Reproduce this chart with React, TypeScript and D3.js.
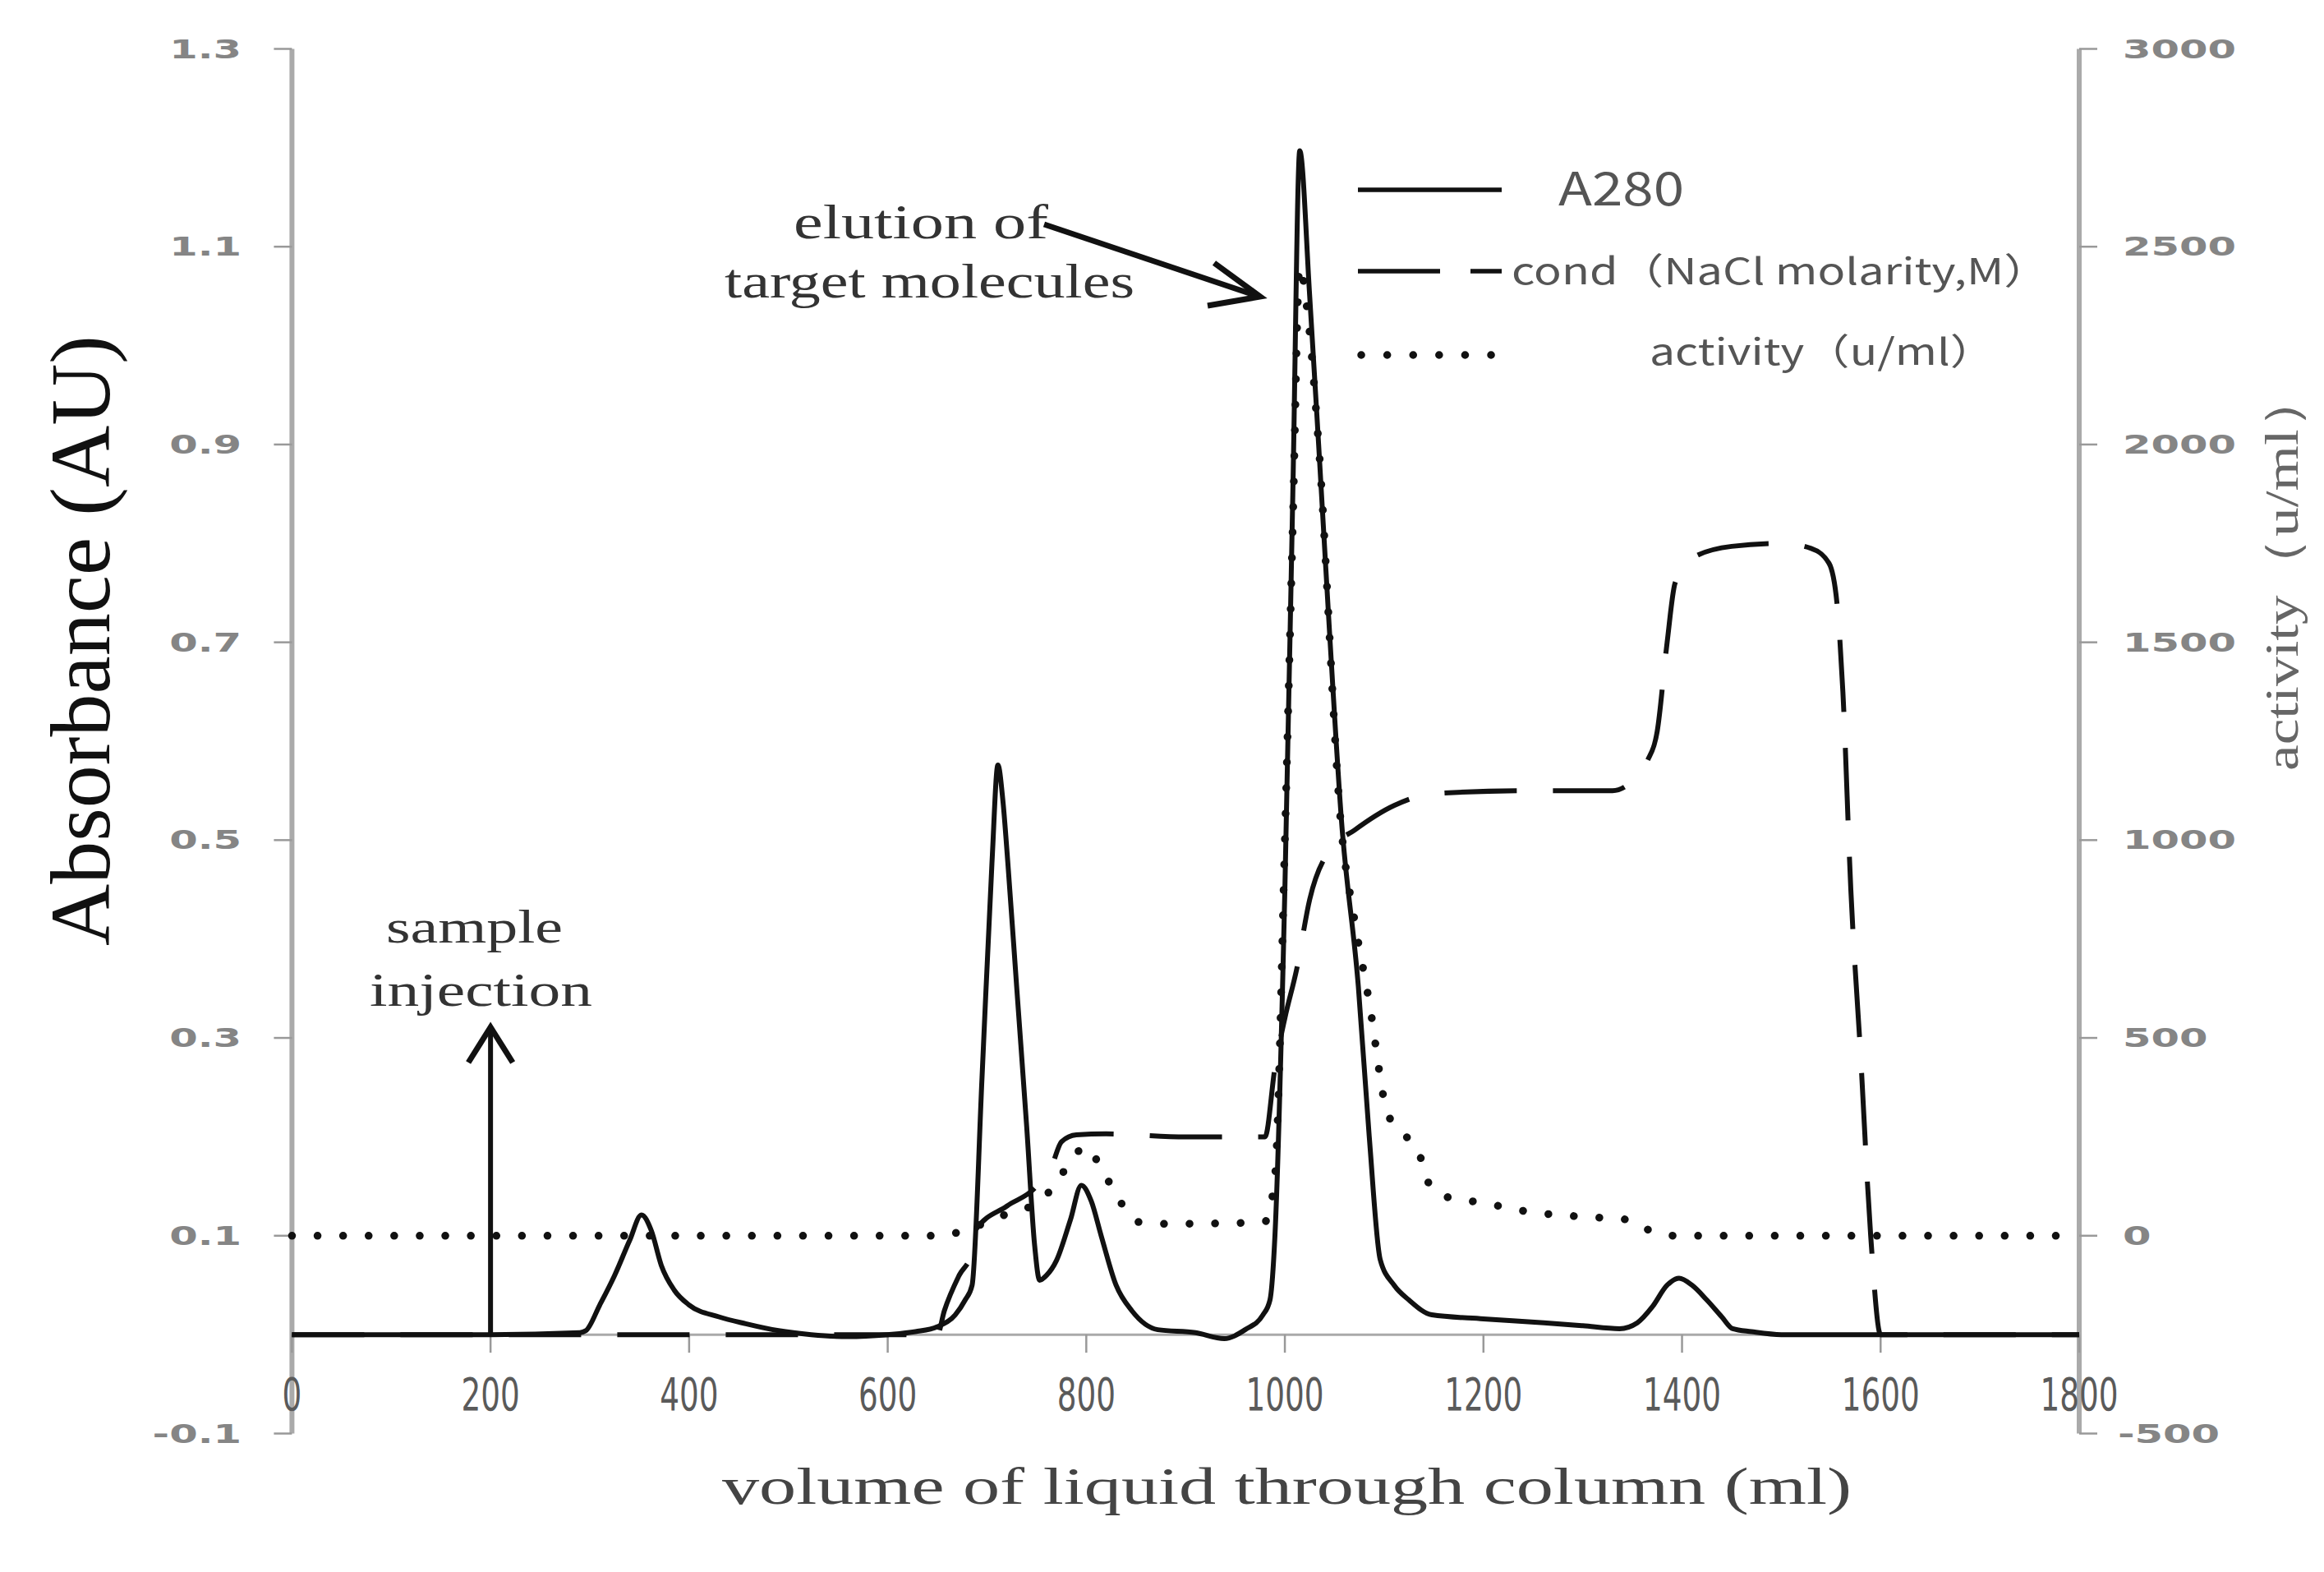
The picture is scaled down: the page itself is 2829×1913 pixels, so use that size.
import React from "react";
import * as d3 from "d3";

// ---- data ----
const xTicks = [0, 200, 400, 600, 800, 1000, 1200, 1400, 1600, 1800];
const yLeftTicks = [-0.1, 0.1, 0.3, 0.5, 0.7, 0.9, 1.1, 1.3];
const yRightTicks = [-500, 0, 500, 1000, 1500, 2000, 2500, 3000];

const a280Volume = [0, 100, 200, 290, 296, 310, 325, 340, 352, 362, 372, 385, 400, 430, 457, 490, 523, 560, 600, 628, 650, 668, 678, 685, 695, 705, 711, 716, 721, 730, 740, 748, 753, 760, 770, 784, 795, 805, 815, 830, 846, 872, 910, 939, 960, 978, 985, 990, 1000, 1008, 1015, 1025, 1034, 1045, 1057, 1074, 1085, 1096, 1110, 1125, 1148, 1200, 1261, 1300, 1337, 1355, 1370, 1385, 1397, 1410, 1425, 1440, 1451, 1470, 1500, 1600, 1700, 1800];
const a280Values = [0, 0, 0, 0.002, 0.004, 0.03, 0.06, 0.095, 0.121, 0.105, 0.07, 0.045, 0.03, 0.018, 0.011, 0.004, 0, -0.002, 0, 0.003, 0.008, 0.02, 0.035, 0.05, 0.26, 0.477, 0.576, 0.54, 0.477, 0.35, 0.21, 0.09, 0.055, 0.06, 0.075, 0.116, 0.151, 0.135, 0.1, 0.05, 0.024, 0.005, 0.002, -0.004, 0.005, 0.02, 0.035, 0.1, 0.45, 0.85, 1.197, 1.05, 0.9, 0.71, 0.52, 0.352, 0.2, 0.076, 0.05, 0.035, 0.02, 0.016, 0.012, 0.009, 0.006, 0.012, 0.028, 0.05, 0.057, 0.05, 0.035, 0.018, 0.006, 0.003, 0, 0, 0, 0];

const condVolume = [0, 650, 657, 672, 685, 688, 720, 748, 765, 775, 790, 820, 900, 980, 990, 1000, 1012, 1025, 1045, 1070, 1110, 1150, 1250, 1330, 1350, 1365, 1375, 1385, 1393, 1410, 1450, 1500, 1530, 1548, 1556, 1562, 1570, 1580, 1590, 1600, 1700, 1800];
const condValues = [0, 0, 0.024, 0.06, 0.083, 0.105, 0.13, 0.148, 0.17, 0.195, 0.202, 0.203, 0.2, 0.2, 0.27, 0.32, 0.37, 0.44, 0.49, 0.51, 0.535, 0.547, 0.55, 0.55, 0.56, 0.58, 0.61, 0.7, 0.76, 0.785, 0.797, 0.8, 0.795, 0.78, 0.74, 0.65, 0.45, 0.28, 0.1, 0, 0, 0];

const activityVolume = [0, 650, 665, 688, 720, 755, 775, 800, 813, 826, 840, 852, 880, 950, 980, 990, 1000, 1008, 1015, 1022, 1034, 1057, 1070, 1085, 1103, 1118, 1133, 1148, 1166, 1195, 1250, 1300, 1347, 1366, 1394, 1500, 1800];
const activityValues = [0, 0, 5, 23, 55, 90, 155, 225, 180, 122, 65, 35, 30, 32, 36, 150, 1000, 1800, 2450, 2350, 2000, 1025, 800, 590, 313, 260, 222, 118, 96, 85, 59, 48, 40, 15, 0, 0, 0];

const legendLabels = ["A280", "cond（NaCl molarity,M）", "activity（u/ml）"];

export default function App() {
  const W = 2829, H = 1913;
  const x = d3.scaleLinear().domain([0, 1800]).range([355.4, 2531]);
  const y = d3.scaleLinear().domain([-0.1, 1.3]).range([1744.5, 59.5]);
  const yR = d3.scaleLinear().domain([-500, 3000]).range([1744.5, 59.5]);

  const lineL = d3.line<[number, number]>().x(d => x(d[0])).y(d => y(d[1])).curve(d3.curveMonotoneX);
  const lineR = d3.line<[number, number]>().x(d => x(d[0])).y(d => yR(d[1])).curve(d3.curveMonotoneX);

  const a280 = a280Volume.map((v, i) => [v, a280Values[i]] as [number, number]);
  const cond = condVolume.map((v, i) => [v, condValues[i]] as [number, number]);
  const act = activityVolume.map((v, i) => [v, activityValues[i]] as [number, number]);

  const x0 = x(0), x1 = x(1800), yBase = y(0);
  const tickFont = "DejaVu Sans, sans-serif";
  const serif = "Liberation Serif, Times New Roman, serif";
  const sans = "Noto Sans CJK SC, Noto Sans, sans-serif";

  return (
    <svg width={W} height={H} style={{ position: "absolute", left: 0, top: 0, background: "#fff" }}>
      <rect width={W} height={H} fill="#fff" />
      {/* axes */}
      <line x1={x0} x2={x0} y1={y(1.3)} y2={y(-0.1)} stroke="#aaa" strokeWidth={6} />
      <line x1={x1} x2={x1} y1={yR(3000)} y2={yR(-500)} stroke="#aaa" strokeWidth={6} />
      <line x1={x0} x2={x1} y1={yBase} y2={yBase} stroke="#aaa" strokeWidth={3} />
      {yLeftTicks.map(t => (
        <g key={"l" + t}>
          <line x1={x0 - 22} x2={x0} y1={y(t)} y2={y(t)} stroke="#999" strokeWidth={2.5} />
          <text transform={`translate(294,${y(t) + 11}) scale(1.55,1)`} textAnchor="end" fontFamily={tickFont} fontWeight="bold" fontSize={32} fill="#858585">{t.toFixed(1)}</text>
        </g>
      ))}
      {yRightTicks.map(t => (
        <g key={"r" + t}>
          <line x1={x1} x2={x1 + 22} y1={yR(t)} y2={yR(t)} stroke="#999" strokeWidth={2.5} />
          <text transform={`translate(${t < 0 ? 2578 : 2584},${yR(t) + 11}) scale(1.55,1)`} textAnchor="start" fontFamily={tickFont} fontWeight="bold" fontSize={32} fill="#858585">{t}</text>
        </g>
      ))}
      {xTicks.map(t => (
        <g key={"x" + t}>
          <line x1={x(t)} x2={x(t)} y1={yBase} y2={yBase + 22} stroke="#999" strokeWidth={2.5} />
          <text transform={`translate(${x(t)},1716) scale(0.68,1)`} textAnchor="middle" fontFamily={tickFont} fontSize={55} fill="#5a5a5a">{t}</text>
        </g>
      ))}

      {/* axis titles */}
      <text x={879} y={1830} textLength={1375} lengthAdjust="spacingAndGlyphs" fontFamily={serif} fontSize={64} fill="#444">volume of liquid through column (ml)</text>
      <text transform="translate(133,1151) rotate(-90)" textLength={743} lengthAdjust="spacingAndGlyphs" fontFamily={serif} fontSize={104} fill="#111">Absorbance (AU)</text>
      <text transform="translate(2797,938) rotate(-90)" textLength={487} lengthAdjust="spacingAndGlyphs" fontFamily={serif} fontSize={58} fill="#666">activity（u/ml）</text>

      {/* series */}
      <path d={lineL(a280) || ""} fill="none" stroke="#111" strokeWidth={6} strokeLinejoin="round" />
      <path d={lineL(cond) || ""} fill="none" stroke="#111" strokeWidth={6} strokeDasharray="88 44" />
      <path d={lineR(act) || ""} fill="none" stroke="#111" strokeWidth={9.5} strokeDasharray="0.1 31" strokeLinecap="round" />

      {/* legend */}
      <line x1={1653} x2={1828} y1={231} y2={231} stroke="#111" strokeWidth={5.5} />
      <text x={1897} y={250} textLength={153} lengthAdjust="spacingAndGlyphs" fontFamily={sans} fontSize={56} fill="#555">{legendLabels[0]}</text>
      <line x1={1653} x2={1828} y1={330} y2={330} stroke="#111" strokeWidth={5.5} strokeDasharray="100 37 38 100" />
      <text x={1840} y={346} textLength={655} lengthAdjust="spacingAndGlyphs" fontFamily={sans} fontSize={44} fill="#555">{legendLabels[1]}</text>
      <line x1={1657} x2={1828} y1={432} y2={432} stroke="#111" strokeWidth={9.5} strokeDasharray="0.1 31.5" strokeLinecap="round" />
      <text x={2008} y={444} textLength={421} lengthAdjust="spacingAndGlyphs" fontFamily={sans} fontSize={44} fill="#555">{legendLabels[2]}</text>

      {/* annotations */}
      <text x={966} y={290} textLength={310} lengthAdjust="spacingAndGlyphs" fontFamily={serif} fontSize={60} fill="#333">elution of</text>
      <text x={882} y={362} textLength={499} lengthAdjust="spacingAndGlyphs" fontFamily={serif} fontSize={60} fill="#333">target molecules</text>
      <line x1={1271} x2={1530} y1={273} y2={360} stroke="#111" strokeWidth={7} />
      <path d="M1478,320 L1534,361 L1470,372" fill="none" stroke="#111" strokeWidth={7} strokeLinejoin="miter" />

      <text x={470} y={1147} textLength={215} lengthAdjust="spacingAndGlyphs" fontFamily={serif} fontSize={56} fill="#333">sample</text>
      <text x={450} y={1224} textLength={271} lengthAdjust="spacingAndGlyphs" fontFamily={serif} fontSize={56} fill="#333">injection</text>
      <line x1={x(200)} x2={x(200)} y1={yBase} y2={1252} stroke="#111" strokeWidth={6} />
      <path d={`M${x(200) - 27},1293 L${x(200)},1250 L${x(200) + 27},1293`} fill="none" stroke="#111" strokeWidth={7} />
    </svg>
  );
}
